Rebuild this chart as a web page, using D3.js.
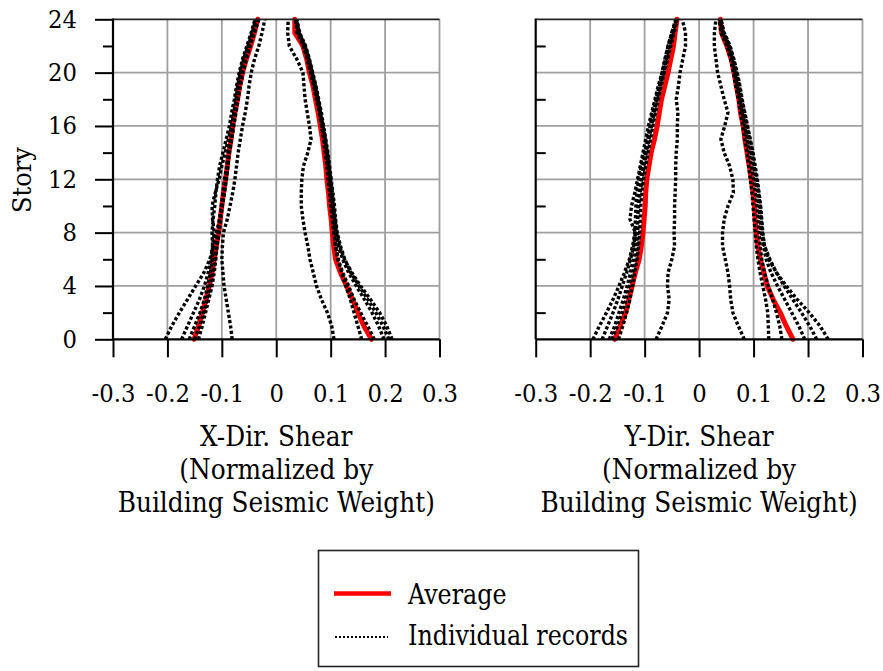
<!DOCTYPE html>
<html>
<head>
<meta charset="utf-8">
<script src="https://cdn.jsdelivr.net/npm/d3@7"></script>
<style>
  html, body { margin: 0; padding: 0; background: #fff; }
  svg text { font-family: "DejaVu Serif", serif !important; fill: #000; }
</style>
</head>
<body>
<svg id="chart" width="883" height="671"></svg>
<script>
// ---------------- DATA ----------------
const stories = [0,1,2,3,4,5,6,7,8,9,10,11,12,13,14,15,16,17,18,19,20,21,22,23,24];
const storyTicks = [0,4,8,12,16,20,24];
const storyMinorTicks = [2,6,10,14,18,22];
const shearTicks = [-0.3,-0.2,-0.1,0,0.1,0.2,0.3];
const shearTickLabels = ["-0.3","-0.2","-0.1","0","0.1","0.2","0.3"];
const panelTitles = [
  ["X-Dir. Shear","(Normalized by","Building Seismic Weight)"],
  ["Y-Dir. Shear","(Normalized by","Building Seismic Weight)"]
];
const legendLabels = ["Average","Individual records"];
const yAxisLabel = "Story";

// X direction, negative envelope
const xNegAvg = [-0.151,-0.143,-0.136,-0.129,-0.123,-0.118,-0.114,-0.110,-0.106,-0.103,-0.100,-0.097,-0.093,-0.090,-0.087,-0.083,-0.080,-0.076,-0.071,-0.067,-0.062,-0.055,-0.047,-0.040,-0.034];
const xNegRecords = [
  [-0.204,-0.192,-0.178,-0.163,-0.148,-0.133,-0.122,-0.115,-0.110,-0.104,-0.100,-0.096,-0.092,-0.089,-0.087,-0.083,-0.080,-0.076,-0.072,-0.068,-0.064,-0.058,-0.050,-0.042,-0.036],
  [-0.174,-0.163,-0.152,-0.141,-0.132,-0.125,-0.120,-0.117,-0.114,-0.117,-0.118,-0.112,-0.105,-0.100,-0.094,-0.088,-0.082,-0.078,-0.074,-0.071,-0.066,-0.060,-0.052,-0.044,-0.038],
  [-0.143,-0.136,-0.130,-0.124,-0.118,-0.114,-0.111,-0.109,-0.107,-0.104,-0.101,-0.098,-0.095,-0.091,-0.088,-0.084,-0.081,-0.077,-0.073,-0.068,-0.063,-0.057,-0.050,-0.042,-0.034],
  [-0.081,-0.084,-0.088,-0.092,-0.096,-0.098,-0.100,-0.099,-0.097,-0.090,-0.085,-0.080,-0.076,-0.073,-0.070,-0.066,-0.062,-0.057,-0.053,-0.050,-0.046,-0.040,-0.032,-0.026,-0.021],
  [-0.160,-0.150,-0.140,-0.132,-0.126,-0.121,-0.118,-0.117,-0.118,-0.116,-0.113,-0.111,-0.108,-0.104,-0.098,-0.092,-0.086,-0.082,-0.077,-0.073,-0.068,-0.062,-0.054,-0.046,-0.039],
  [-0.150,-0.141,-0.133,-0.127,-0.122,-0.117,-0.113,-0.109,-0.105,-0.102,-0.099,-0.095,-0.092,-0.089,-0.086,-0.082,-0.078,-0.074,-0.070,-0.066,-0.061,-0.055,-0.048,-0.040,-0.032]
];
// X direction, positive envelope
const xPosAvg = [0.175,0.161,0.150,0.140,0.129,0.118,0.109,0.1055,0.103,0.101,0.098,0.096,0.093,0.091,0.088,0.085,0.081,0.077,0.072,0.0675,0.061,0.056,0.049,0.034,0.034];
const xPosRecords = [
  [0.106,0.102,0.094,0.083,0.074,0.068,0.062,0.058,0.053,0.049,0.046,0.046,0.047,0.050,0.058,0.064,0.061,0.057,0.053,0.051,0.049,0.038,0.024,0.021,0.022],
  [0.157,0.150,0.143,0.136,0.128,0.120,0.113,0.109,0.106,0.104,0.102,0.099,0.097,0.094,0.091,0.088,0.084,0.080,0.075,0.069,0.063,0.057,0.050,0.038,0.036],
  [0.198,0.188,0.176,0.162,0.147,0.133,0.122,0.114,0.109,0.107,0.104,0.101,0.099,0.096,0.093,0.090,0.086,0.081,0.076,0.071,0.066,0.060,0.053,0.042,0.037],
  [0.207,0.196,0.183,0.168,0.152,0.137,0.126,0.118,0.112,0.109,0.107,0.104,0.101,0.098,0.095,0.091,0.087,0.083,0.078,0.073,0.067,0.061,0.054,0.043,0.038],
  [0.213,0.203,0.190,0.173,0.155,0.139,0.125,0.116,0.111,0.108,0.105,0.103,0.100,0.097,0.094,0.090,0.085,0.081,0.077,0.072,0.066,0.060,0.052,0.041,0.036],
  [0.180,0.168,0.155,0.143,0.133,0.122,0.114,0.109,0.106,0.103,0.100,0.098,0.095,0.093,0.090,0.087,0.083,0.079,0.074,0.069,0.063,0.058,0.050,0.040,0.035]
];
// Y direction, negative envelope
const yNegAvg = [-0.155,-0.145,-0.135,-0.129,-0.123,-0.117,-0.110,-0.106,-0.103,-0.101,-0.099,-0.098,-0.096,-0.092,-0.088,-0.082,-0.077,-0.073,-0.069,-0.063,-0.057,-0.052,-0.047,-0.044,-0.0405];
const yNegRecords = [
  [-0.079,-0.068,-0.058,-0.055,-0.058,-0.057,-0.050,-0.045,-0.046,-0.045,-0.045,-0.044,-0.043,-0.043,-0.042,-0.040,-0.040,-0.039,-0.042,-0.038,-0.035,-0.030,-0.025,-0.025,-0.031],
  [-0.195,-0.183,-0.170,-0.158,-0.147,-0.137,-0.128,-0.122,-0.118,-0.117,-0.116,-0.114,-0.111,-0.106,-0.100,-0.094,-0.089,-0.083,-0.078,-0.072,-0.066,-0.060,-0.054,-0.048,-0.042],
  [-0.178,-0.168,-0.158,-0.149,-0.141,-0.133,-0.126,-0.120,-0.117,-0.127,-0.124,-0.118,-0.113,-0.108,-0.103,-0.098,-0.093,-0.087,-0.081,-0.075,-0.068,-0.062,-0.057,-0.050,-0.043],
  [-0.165,-0.155,-0.147,-0.139,-0.132,-0.126,-0.121,-0.117,-0.114,-0.113,-0.112,-0.109,-0.106,-0.102,-0.098,-0.094,-0.090,-0.085,-0.079,-0.073,-0.068,-0.063,-0.057,-0.050,-0.041],
  [-0.148,-0.140,-0.133,-0.127,-0.122,-0.118,-0.114,-0.111,-0.109,-0.108,-0.107,-0.105,-0.102,-0.098,-0.094,-0.089,-0.085,-0.080,-0.075,-0.070,-0.064,-0.058,-0.052,-0.046,-0.040],
  [-0.160,-0.150,-0.141,-0.134,-0.128,-0.121,-0.116,-0.113,-0.112,-0.113,-0.111,-0.108,-0.105,-0.101,-0.097,-0.092,-0.087,-0.082,-0.077,-0.071,-0.065,-0.060,-0.055,-0.048,-0.042]
];
// Y direction, positive envelope
const yPosAvg = [0.1725,0.160,0.149,0.136,0.125,0.119,0.1125,0.108,0.105,0.103,0.1015,0.099,0.096,0.092,0.088,0.084,0.081,0.076,0.073,0.0685,0.064,0.059,0.051,0.041,0.039];
const yPosRecords = [
  [0.083,0.072,0.062,0.058,0.056,0.053,0.048,0.043,0.043,0.046,0.053,0.063,0.062,0.056,0.046,0.040,0.047,0.053,0.046,0.040,0.034,0.031,0.028,0.028,0.031],
  [0.128,0.127,0.126,0.122,0.117,0.112,0.108,0.105,0.103,0.101,0.099,0.097,0.094,0.091,0.088,0.084,0.080,0.076,0.072,0.067,0.063,0.058,0.051,0.040,0.037],
  [0.152,0.148,0.142,0.135,0.127,0.120,0.115,0.112,0.110,0.108,0.106,0.103,0.100,0.096,0.092,0.088,0.084,0.079,0.075,0.070,0.066,0.061,0.054,0.043,0.038],
  [0.194,0.183,0.170,0.157,0.144,0.132,0.123,0.118,0.114,0.112,0.110,0.107,0.104,0.100,0.096,0.091,0.087,0.082,0.077,0.072,0.068,0.062,0.055,0.044,0.039],
  [0.216,0.203,0.188,0.172,0.156,0.142,0.130,0.120,0.116,0.114,0.112,0.109,0.105,0.101,0.097,0.093,0.088,0.083,0.078,0.074,0.069,0.063,0.056,0.045,0.040],
  [0.237,0.222,0.202,0.180,0.160,0.142,0.128,0.120,0.117,0.115,0.113,0.110,0.107,0.103,0.099,0.094,0.089,0.084,0.079,0.075,0.070,0.064,0.057,0.046,0.040]
];

// ---------------- DRAW ----------------
const svg = d3.select("#chart");
svg.append("rect").attr("width",883).attr("height",671).attr("fill","#fff");

const plotTop = 19.3, plotBottom = 339.3;
const yScale = d3.scaleLinear().domain([0,24]).range([plotBottom, plotTop]);

const RED = "#ff0000", GRID = "#a0a0a0";
const DOT = { width: 3.4, dash: "3.2 2.2" };
const TICK_FS = 24.5, TICK_SX = 0.93;
const TITLE_FS = 27, TITLE_SX = 0.92;
const LEG_FS = 27, LEG_SX = 0.88;

function drawPanel(xRange, negAvg, negRecs, posAvg, posRecs, title, outerTicks) {
  const x = d3.scaleLinear().domain([-0.3,0.3]).range(xRange);
  const g = svg.append("g");

  // gridlines
  g.append("g").selectAll("line").data(shearTicks.filter(d => d > -0.3)).join("line")
    .attr("x1", d => x(d)).attr("x2", d => x(d))
    .attr("y1", plotTop).attr("y2", plotBottom)
    .attr("stroke", GRID).attr("stroke-width", 1.8);
  g.append("g").selectAll("line").data(storyTicks.filter(d => d > 0 && d < 24)).join("line")
    .attr("x1", xRange[0]).attr("x2", xRange[1])
    .attr("y1", d => yScale(d)).attr("y2", d => yScale(d))
    .attr("stroke", GRID).attr("stroke-width", 1.8);

  const line = d3.line().x(d => x(d[0])).y(d => yScale(d[1])).curve(d3.curveLinear);
  const toPts = arr => arr.map((v,i) => [v, stories[i]]);

  // averages
  [negAvg, posAvg].forEach(a => {
    g.append("path").attr("d", line(toPts(a)))
      .attr("fill","none").attr("stroke",RED).attr("stroke-width",5)
      .attr("stroke-linejoin","round").attr("stroke-linecap","round");
  });
  // individual records
  negRecs.concat(posRecs).forEach(r => {
    g.append("path").attr("d", line(toPts(r)))
      .attr("fill","none").attr("stroke","#000").attr("stroke-width",DOT.width)
      .attr("stroke-dasharray",DOT.dash);
  });

  // top frame
  g.append("line").attr("x1",xRange[0]).attr("x2",xRange[1]).attr("y1",plotTop).attr("y2",plotTop)
    .attr("stroke","#222").attr("stroke-width",1.8);

  // left axis
  const yAxisG = g.append("g").attr("transform",`translate(${xRange[0]},0)`);
  if (outerTicks) {
    yAxisG.call(d3.axisLeft(yScale).tickValues(storyTicks).tickSize(18).tickPadding(18)
      .tickFormat(d3.format("d")));
    yAxisG.selectAll(".tick text").attr("font-size",TICK_FS)
      .attr("x",0).attr("transform",`translate(-36,0) scale(${TICK_SX},1)`);
    const minorG = g.append("g").attr("transform",`translate(${xRange[0]},0)`);
    minorG.call(d3.axisLeft(yScale).tickValues(storyMinorTicks).tickSize(10).tickFormat(""));
    minorG.select(".domain").remove();
    minorG.selectAll("line").attr("stroke","#000").attr("stroke-width",2);
  } else {
    yAxisG.call(d3.axisRight(yScale).tickValues(storyMinorTicks).tickSize(10).tickFormat(""));
  }
  yAxisG.select(".domain").remove();
  yAxisG.selectAll("line").attr("stroke","#000").attr("stroke-width",2);
  g.append("line").attr("x1",xRange[0]).attr("x2",xRange[0]).attr("y1",plotTop-0.9).attr("y2",plotBottom)
    .attr("stroke","#000").attr("stroke-width",2.2);

  // bottom axis
  const xAxisG = g.append("g").attr("transform",`translate(0,${plotBottom})`);
  xAxisG.call(d3.axisBottom(x).tickValues(shearTicks).tickSize(18)
    .tickFormat((d,i) => shearTickLabels[i]));
  xAxisG.select(".domain").remove();
  xAxisG.selectAll("line").attr("stroke","#000").attr("stroke-width",2);
  xAxisG.selectAll(".tick text").attr("font-size",TICK_FS).attr("y",0).attr("dy",0)
    .attr("transform",`translate(0,62.5) scale(${TICK_SX},1)`);
  g.append("line").attr("x1",xRange[0]).attr("x2",xRange[1]).attr("y1",plotBottom).attr("y2",plotBottom)
    .attr("stroke","#000").attr("stroke-width",2.2);

  // title
  const cx = (xRange[0]+xRange[1])/2;
  const t = g.append("text").attr("text-anchor","middle").attr("font-size",TITLE_FS)
    .attr("transform",`translate(${cx},0) scale(${TITLE_SX},1)`);
  title.forEach((s,i) => {
    t.append("tspan").attr("x",0).attr("y",446 + i*33).text(s);
  });
}

drawPanel([113, 439.5], xNegAvg, xNegRecords, xPosAvg, xPosRecords, panelTitles[0], true);
drawPanel([535.7, 862.5], yNegAvg, yNegRecords, yPosAvg, yPosRecords, panelTitles[1], false);

// y label
svg.append("text").attr("transform","translate(31,180) rotate(-90) scale(0.93,1)")
  .attr("text-anchor","middle").attr("font-size",26).text(yAxisLabel);

// legend
const lg = svg.append("g");
lg.append("rect").attr("x",318.5).attr("y",550.5).attr("width",320).attr("height",116)
  .attr("fill","#fff").attr("stroke","#222").attr("stroke-width",1.6);
lg.append("line").attr("x1",334).attr("x2",391).attr("y1",593.5).attr("y2",593.5)
  .attr("stroke",RED).attr("stroke-width",4.5);
lg.append("line").attr("x1",335).attr("x2",388).attr("y1",637).attr("y2",637)
  .attr("stroke","#000").attr("stroke-width",2.2).attr("stroke-dasharray","2 2");
lg.append("text").attr("transform",`translate(408,603.5) scale(${LEG_SX},1)`)
  .attr("font-size",LEG_FS).text(legendLabels[0]);
lg.append("text").attr("transform",`translate(408,645) scale(${LEG_SX},1)`)
  .attr("font-size",LEG_FS).text(legendLabels[1]);
</script>
</body>
</html>
